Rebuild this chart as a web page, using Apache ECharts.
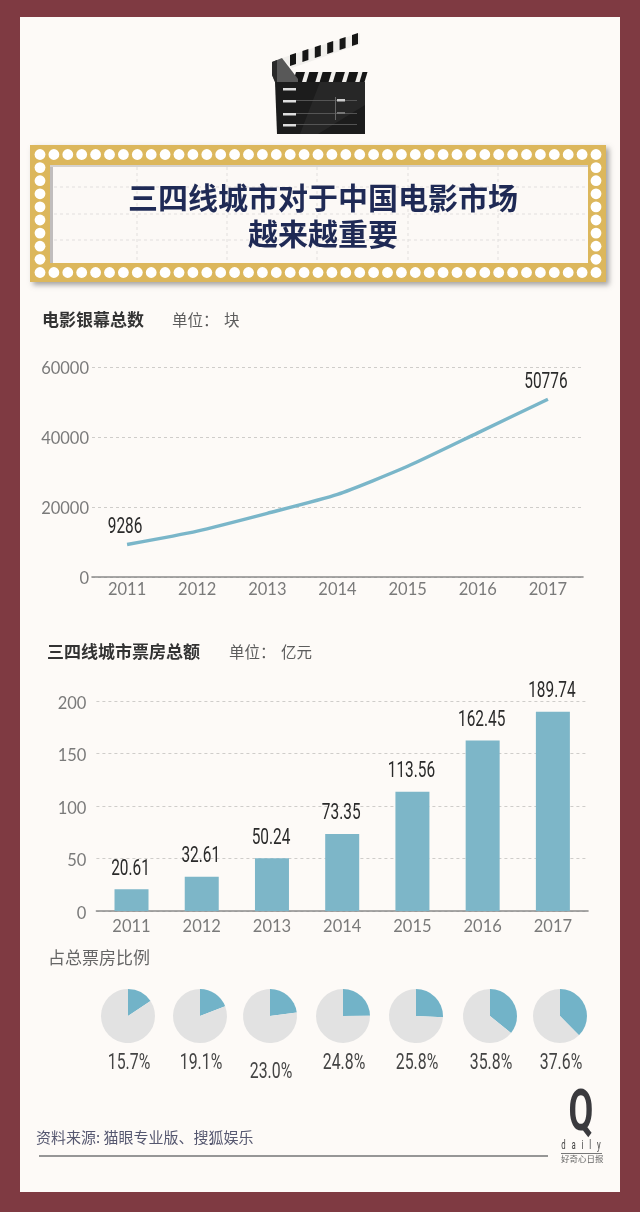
<!DOCTYPE html>
<html>
<head>
<meta charset="utf-8">
<style>
html, body { margin: 0; padding: 0; background: #7f3a42; }
#chart { width: 640px; height: 1212px; }
</style>
<script src="https://cdn.jsdelivr.net/npm/echarts@6/dist/echarts.min.js"></script>
</head>
<body>
<div id="chart"></div>
<script>
const years = ['2011', '2012', '2013', '2014', '2015', '2016', '2017'];
const screens = [9286, 13118, 18195, 23600, 31627, 41179, 50776];
const boxOffice = [20.61, 32.61, 50.24, 73.35, 113.56, 162.45, 189.74];
const shares = [15.7, 19.1, 23.0, 24.8, 25.8, 35.8, 37.6];
const shareX = [128, 200, 270, 343, 416, 490, 560];
const shareLabelY = [1063, 1063, 1072, 1063, 1063, 1063, 1063];

const CJK = '"Noto Sans CJK SC", sans-serif';
const NARROW = 'Roboto, sans-serif';
const TICK = 'Lato, sans-serif';
const TEAL = '#7ab6c9';

const chart = echarts.init(document.getElementById('chart'));

function text(x, y, str, size, color, extra) {
    return {
        type: 'text', x: x, y: y,
        style: Object.assign({
            text: str, fontFamily: CJK, fontSize: size, fill: color, textVerticalAlign: 'middle'
        }, extra || {})
    };
}

function rect(x, y, w, h, fill, extra) {
    return Object.assign({ type: 'rect', shape: { x: x, y: y, width: w, height: h }, style: { fill: fill } }, extra || {});
}

function poly(points, fill) {
    return { type: 'polygon', shape: { points: points }, style: { fill: fill } };
}

// ticket frame with bulbs
function frame() {
    const els = [];
    els.push(rect(30, 145, 576, 137, '#dcb75c', {
        style: { fill: '#dcb75c', shadowBlur: 5, shadowColor: 'rgba(80,80,80,.5)', shadowOffsetX: 3, shadowOffsetY: 3 }
    }));
    els.push(rect(50, 165, 538, 98, '#fcf9f6'));
    els.push(rect(50, 165, 3, 98, '#c0bdbd'));
    els.push(rect(50, 165, 538, 2, '#d5d2cf'));
    const dash = { stroke: '#e2dfdd', lineWidth: 1, lineDash: [3, 3] };
    [137, 227, 317, 408, 498].forEach(x => {
        els.push({ type: 'line', shape: { x1: x, y1: 167, x2: x, y2: 263 }, style: dash });
    });
    [187, 214, 240].forEach(y => {
        els.push({ type: 'line', shape: { x1: 54, y1: y, x2: 588, y2: y }, style: dash });
    });
    for (let i = 0; i <= 40; i++) {
        const x = 40 + i * 13.9;
        els.push({ type: 'circle', shape: { cx: x, cy: 154.5, r: 5.4 }, style: { fill: '#fff' } });
        els.push({ type: 'circle', shape: { cx: x, cy: 272.5, r: 5.4 }, style: { fill: '#fff' } });
    }
    for (let i = 1; i <= 8; i++) {
        const y = 154.5 + i * 13.1;
        els.push({ type: 'circle', shape: { cx: 40, cy: y, r: 5.4 }, style: { fill: '#fff' } });
        els.push({ type: 'circle', shape: { cx: 596, cy: y, r: 5.4 }, style: { fill: '#fff' } });
    }
    return els;
}

// clapperboard icon
function clapper() {
    const els = [];
    els.push(poly([[275, 82], [365, 82], [365, 134], [277, 134]], '#1c1c1c'));
    els.push(poly([[320, 82], [365, 82], [365, 105], [318, 134], [300, 134]], '#272727'));
    [88, 100, 113, 124].forEach(y => els.push(rect(283, y, 13, 2.5, '#dedede')));
    [100, 113, 124].forEach(y => els.push(rect(296, y, 61, 0.8, '#666')));
    els.push(rect(335, 97, 1, 23, '#666'));
    els.push(rect(337, 99, 8, 2.5, '#ccc'));
    els.push(rect(337, 112, 8, 2, '#777'));
    els.push(poly([[296, 72], [365, 72], [365, 82], [296, 82]], '#f1efec'));
    for (let i = 0; i < 6; i++) {
        const x = 293 + i * 13.3, w = i === 5 ? 5 : 9;
        els.push(poly([[x + 3, 72], [x + 3 + w, 72], [x + w, 82], [x, 82]], '#161616'));
    }
    els.push(poly([[282, 58], [360, 33], [360, 44], [292, 68]], '#f1efec'));
    for (let i = 0; i < 6; i++) {
        const x = 290 + i * 12.4, y = 54 - i * 4;
        els.push(poly([[x, y + 1], [x + 6, y - 1], [x + 6, y + 10], [x, y + 12]], '#161616'));
    }
    els.push(poly([[272, 62], [282, 58], [298, 79], [298, 82], [275, 82], [272, 75]], '#585858'));
    els.push(poly([[272, 62], [277, 60], [277, 82], [275, 82], [272, 75]], '#2a2a2a'));
    return els;
}

const graphics = [
    rect(20, 17, 600, 1175, '#fdfaf7'),
    ...clapper(),
    ...frame(),
    text(323, 198, '三四线城市对于中国电影市场', 30, '#1f2a55', { fontWeight: 'bold', textAlign: 'center' }),
    text(323, 234, '越来越重要', 30, '#1f2a55', { fontWeight: 'bold', textAlign: 'center' }),
    text(42, 320, '电影银幕总数', 17, '#333', { fontWeight: 'bold' }),
    text(172, 320, '单位：', 15.5, '#5c5c5c'),
    text(224, 320, '块', 15.5, '#5c5c5c'),
    text(47, 652, '三四线城市票房总额', 17, '#333', { fontWeight: 'bold' }),
    text(229, 652, '单位：', 15.5, '#5c5c5c'),
    text(281, 652, '亿元', 15.5, '#5c5c5c'),
    text(48, 958, '占总票房比例', 17, '#666'),
    text(36, 1137, '资料来源: 猫眼专业版、搜狐娱乐', 15, '#565870'),
    rect(39, 1155, 509, 2, '#969696'),
    {
        type: 'text', x: 581, y: 1115, scaleX: 0.62, scaleY: 1,
        style: {
            text: 'Q', fontFamily: NARROW, fontWeight: 'bold', fontSize: 58, fill: '#3a3a3e',
            textAlign: 'center', textVerticalAlign: 'middle'
        }
    },
    {
        type: 'text', x: 581, y: 1146, scaleX: 0.6, scaleY: 1,
        style: {
            text: 'd   a   i   l   y', fontFamily: NARROW, fontSize: 13, fill: '#444',
            textAlign: 'center', textVerticalAlign: 'middle'
        }
    },
    rect(561, 1153, 41, 1, '#777'),
    text(561, 1159, '好奇心日报', 8.5, '#666'),
    // share labels under the pies
    ...shares.map((s, i) => ({
        type: 'text', x: shareX[i] + 1, y: shareLabelY[i], scaleX: 0.72,
        style: {
            text: s.toFixed(1) + '%', fontFamily: NARROW, fontSize: 22, fill: '#444',
            textAlign: 'center', textVerticalAlign: 'middle'
        }
    }))
];

graphics.forEach((g, i) => { g.z = i; });

const axisLabelStyle = { color: '#7a7a7a', fontFamily: TICK, fontSize: 16.5 };

// condensed value labels, placed through the axis scales
function valueLabels(xIndex, yIndex, points, digits, dx, dy) {
    return {
        type: 'custom',
        xAxisIndex: xIndex,
        yAxisIndex: yIndex,
        data: points,
        silent: true,
        z: 5,
        renderItem: (params, api) => {
            const p = api.coord([api.value(0), api.value(1)]);
            return {
                type: 'text', x: p[0] + dx, y: p[1] - dy, scaleX: 0.7,
                style: {
                    text: api.value(1).toFixed(digits), fontFamily: NARROW, fontSize: 22,
                    fill: '#2a2a2a', textAlign: 'center', textVerticalAlign: 'middle'
                }
            };
        }
    };
}

const option = {
    animation: false,
    backgroundColor: '#7f3a42',
    graphic: { elements: graphics },
    grid: [
        { left: 92, width: 491, top: 367, height: 210 },
        { left: 96.4, width: 491.6, top: 701, height: 210 }
    ],
    xAxis: [0, 1].map(i => ({
        type: 'category',
        gridIndex: i,
        data: years,
        axisTick: { show: false },
        axisLine: { lineStyle: { color: '#8a8a8a', width: 1.6 } },
        axisLabel: Object.assign({ margin: i ? 7 : 4 }, axisLabelStyle)
    })),
    yAxis: [
        { min: 0, max: 60000, interval: 20000 },
        { min: 0, max: 200, interval: 50 }
    ].map((a, i) => Object.assign({
        type: 'value',
        gridIndex: i,
        axisLine: { show: false },
        axisTick: { show: false },
        axisLabel: Object.assign({
            margin: i ? 10 : 3,
            verticalAlign: 'top',
            padding: [i ? -6 : -7, 0, 0, 0],
            formatter: v => String(v)
        }, axisLabelStyle),
        splitLine: { lineStyle: { color: '#cfcdca', type: [3, 3], width: 1 } }
    }, a)),
    series: [
        {
            type: 'line',
            xAxisIndex: 0,
            yAxisIndex: 0,
            data: screens,
            smooth: 0.2,
            symbol: 'none',
            lineStyle: { color: TEAL, width: 3.4 }
        },
        valueLabels(0, 0, [[0, screens[0]], [6, screens[6]]], 0, -2, 17),
        {
            type: 'bar',
            xAxisIndex: 1,
            yAxisIndex: 1,
            data: boxOffice,
            barWidth: 34,
            itemStyle: { color: '#7db6c8' }
        },
        valueLabels(1, 1, boxOffice.map((v, i) => [i, v]), 2, -1, 20),
        ...shares.map((s, i) => ({
            type: 'pie',
            center: [shareX[i], 1016],
            radius: [0, 27],
            startAngle: 90,
            clockwise: true,
            silent: true,
            label: { show: false },
            labelLine: { show: false },
            data: [
                { value: s, itemStyle: { color: '#72b3c8' } },
                { value: 100 - s, itemStyle: { color: '#e2e2e2' } }
            ]
        }))
    ]
};

chart.setOption(option);
</script>
</body>
</html>
